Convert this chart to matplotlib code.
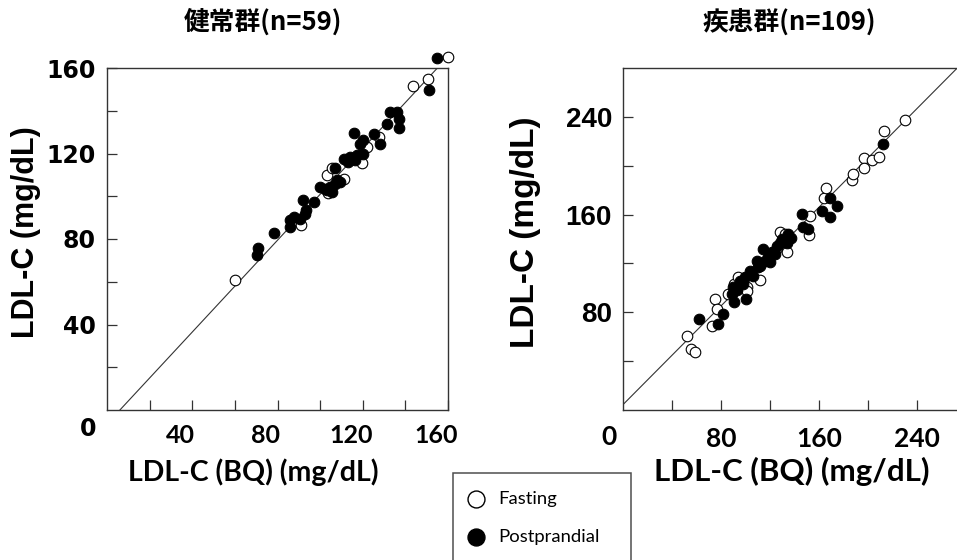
import matplotlib
matplotlib.use('Agg')
import matplotlib.pyplot as plt
from matplotlib.transforms import ScaledTranslation

# 健常群 (healthy, n=59): x = LDL-C (BQ), y = LDL-C
healthy_fast_x = [60.1, 90.8, 103.9, 103.0, 105.5, 111.0, 119.7, 121.9, 127.5, 143.8, 150.5, 159.8]
healthy_fast_y = [60.7, 86.4, 101.6, 110.0, 113.0, 108.0, 115.5, 123.0, 127.5, 151.4, 155.0, 165.1]
healthy_post_x = [70.3, 70.7, 78.4, 85.9, 86.0, 87.8, 90.6, 93.0, 93.4, 91.9, 97.2, 100.0, 102.3,
                  103.0, 104.6, 105.4, 107.0, 109.4, 108.0, 107.0, 111.0, 113.2, 114.0, 116.4,
                  117.2, 120.0, 118.5, 120.3, 116.0, 125.4, 128.2, 131.3, 132.9, 136.0, 136.8,
                  137.2, 151.2, 154.8]
healthy_post_y = [72.4, 76.0, 82.6, 85.7, 88.8, 90.3, 89.5, 91.6, 93.5, 98.1, 97.3, 104.3, 103.5,
                  102.8, 104.3, 102.0, 105.8, 106.6, 107.5, 113.0, 117.6, 116.0, 118.4, 116.8,
                  119.2, 120.0, 124.6, 126.5, 129.6, 129.3, 124.6, 134.0, 139.4, 139.4, 136.3,
                  132.1, 149.5, 164.8]

# 疾患群 (patients, n=109)
patient_fast_x = [52.0, 55.3, 58.8, 72.4, 75.1, 76.5, 86.0, 91.0, 94.0, 101.0, 101.0, 111.8, 125.4,
                  128.0, 132.2, 133.6, 152.1, 152.7, 164.1, 165.7, 186.7, 188.0, 197.0, 197.0,
                  203.0, 209.2, 213.3, 230.2]
patient_fast_y = [60.7, 49.8, 47.8, 68.9, 90.5, 82.6, 94.9, 103.0, 109.0, 100.3, 97.6, 106.5, 133.0,
                  146.0, 144.1, 129.0, 143.6, 159.1, 173.3, 181.5, 188.7, 193.4, 206.5, 198.5,
                  204.3, 207.5, 228.5, 237.1]
patient_post_x = [61.8, 77.8, 81.9, 88.6, 90.3, 90.0, 93.0, 95.5, 98.0, 99.6, 100.6, 103.7, 106.0,
                  109.1, 110.5, 112.0, 114.5, 116.0, 118.6, 120.0, 122.0, 124.0, 125.5, 128.0,
                  130.0, 134.0, 134.9, 137.0, 145.9, 146.9, 151.2, 162.2, 168.7, 169.0, 174.4,
                  212.2]
patient_post_y = [74.4, 70.3, 78.5, 94.9, 88.7, 100.3, 98.0, 105.8, 103.0, 108.6, 90.5, 114.0, 110.0,
                  122.2, 116.7, 118.0, 131.8, 122.0, 125.0, 120.8, 129.0, 128.0, 134.5, 137.0,
                  140.0, 137.0, 144.1, 141.0, 160.8, 150.2, 148.1, 163.2, 173.5, 157.8, 167.3,
                  217.7]

# fitted lines (slope, intercept)
healthy_fit = (1.074, -6.5)
patient_fit = (1.01, 4.4)

titles = ['健常群(n=59)', '疾患群(n=109)']

fig = plt.figure(figsize=(9.57, 5.6), dpi=100)
ax1 = fig.add_axes([107/957, 1 - 410/560, 341/957, 342/560])
ax2 = fig.add_axes([623/957, 1 - 410/560, 343/957, 342/560])

ms = 58
for ax, fx, fy, px, py, fit in [(ax1, healthy_fast_x, healthy_fast_y, healthy_post_x, healthy_post_y, healthy_fit),
                                (ax2, patient_fast_x, patient_fast_y, patient_post_x, patient_post_y, patient_fit)]:
    ax.axline((0, fit[1]), slope=fit[0], color='#333333', lw=0.8, zorder=1)
    so = ax.scatter(fx, fy, s=ms, facecolor='white', edgecolor='black', lw=0.8, zorder=2, clip_on=False)
    sf = ax.scatter(px, py, s=ms, facecolor='black', edgecolor='black', lw=0.8, zorder=3, clip_on=False)
    for sp in ax.spines.values():
        sp.set_color('#333333')
        sp.set_linewidth(1.0)
    ax.tick_params(which='both', direction='in', length=7, width=0.9, color='#333333')

# left panel axes
ax1.set_xlim(0, 160)
ax1.set_ylim(0, 160)
ax1.set_xticks([40, 80, 120, 160])
ax1.set_xticks([20, 60, 100, 140], minor=True)
ax1.set_yticks([40, 80, 120, 160])
ax1.set_yticks([20, 60, 100, 140], minor=True)
ax1.set_xticklabels(['40', '80', '120', '160'], fontfamily='Lato', fontweight='bold', fontsize=18)
ax1.set_yticklabels(['40', '80', '120', '160'], fontfamily='DejaVu Sans', fontweight='bold', fontsize=17)
ax1.tick_params(axis='x', pad=10)
ax1.tick_params(axis='y', pad=8)
shift = ScaledTranslation(-12/100, 0, fig.dpi_scale_trans)
for lab in ax1.get_xticklabels():
    lab.set_transform(lab.get_transform() + shift)
ax1.text(-0.03, -0.055, '0', transform=ax1.transAxes, ha='right', va='center',
         fontfamily='DejaVu Sans', fontweight='bold', fontsize=17)
ax1.set_xlabel('LDL-C (BQ) (mg/dL)', fontfamily='Lato', fontweight='bold', fontsize=20.5, va='center')
ax1.xaxis.set_label_coords(0.43, -0.181)
ax1.set_ylabel('LDL-C (mg/dL)', fontfamily='Liberation Sans', fontweight='bold', fontsize=22, va='center')
ax1.yaxis.set_label_coords(-0.2375, 0.52)

# right panel axes
ax2.set_xlim(0, 280)
ax2.set_ylim(0, 280)
ax2.set_xticks([80, 160, 240])
ax2.set_xticks([40, 120, 200], minor=True)
ax2.set_yticks([80, 160, 240])
ax2.set_yticks([40, 120, 200], minor=True)
ax2.set_xticklabels(['80', '160', '240'], fontfamily='Lato', fontweight='bold', fontsize=19)
ax2.set_yticklabels(['80', '160', '240'], fontfamily='Liberation Sans', fontweight='bold', fontsize=20)
ax2.tick_params(axis='x', pad=12)
ax2.tick_params(axis='y', pad=8)
ax2.text(-0.02, -0.08, '0', transform=ax2.transAxes, ha='right', va='center',
         fontfamily='Lato', fontweight='bold', fontsize=19)
ax2.set_xlabel('LDL-C (BQ) (mg/dL)', fontfamily='Lato', fontweight='bold', fontsize=22.5, va='center')
ax2.xaxis.set_label_coords(0.493, -0.181)
ax2.set_ylabel('LDL-C (mg/dL)', fontfamily='Liberation Sans', fontweight='bold', fontsize=24, va='center')
ax2.yaxis.set_label_coords(-0.283, 0.52)

ax1.text(0.457, 1.134, titles[0], transform=ax1.transAxes, ha='center', va='center',
         fontfamily='Noto Sans CJK JP', fontweight='bold', fontsize=18.5)
ax2.text(0.484, 1.134, titles[1], transform=ax2.transAxes, ha='center', va='center',
         fontfamily='Noto Sans CJK JP', fontweight='bold', fontsize=18.5)

leg = fig.legend(handles=[so, sf], labels=['Fasting', 'Postprandial'], loc='upper left',
                 bbox_to_anchor=(453/957, 1 - 473/560, 178/957, 0), mode='expand',
                 prop={'family': 'Lato', 'size': 13.3}, markerscale=1.6, fancybox=False,
                 borderpad=0.97, labelspacing=1.2, handlelength=0.5, handletextpad=0.97,
                 borderaxespad=0)
leg.get_frame().set_edgecolor('#222222')
leg.get_frame().set_linewidth(1.1)
for h in leg.legend_handles:
    h.set_linewidth(1.0)

fig.savefig('out.png', dpi=100)
